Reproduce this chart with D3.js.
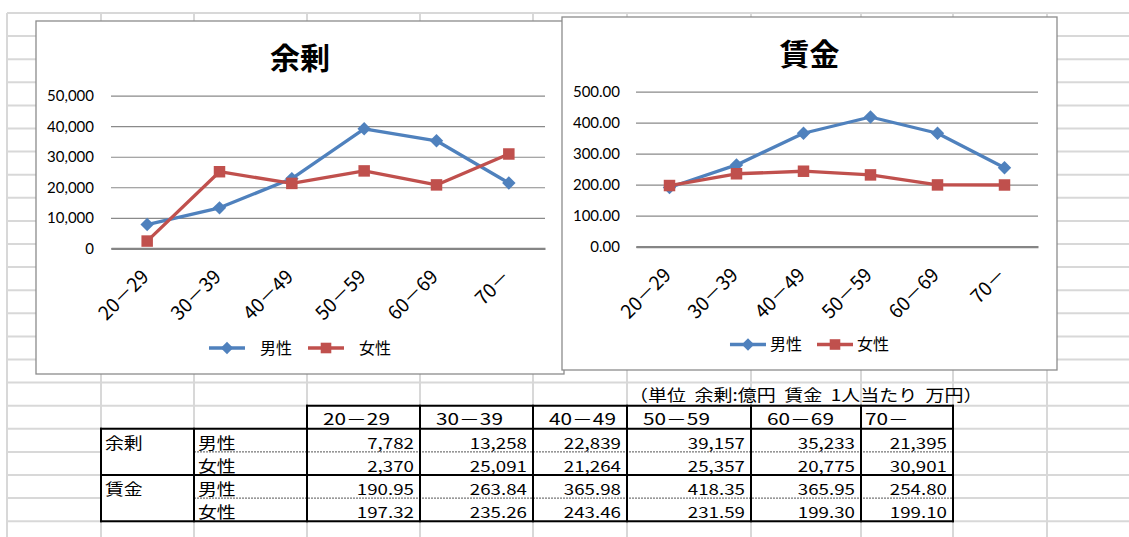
<!DOCTYPE html>
<html>
<head>
<meta charset="utf-8">
<script src="https://cdn.jsdelivr.net/npm/d3@7"></script>
<style>
  html, body { margin: 0; padding: 0; background: #fff; }
  svg { display: block; }
  text { font-family: "Noto Sans CJK JP", sans-serif; fill: #000; }
</style>
</head>
<body>
<div id="hoja"></div>
<script>
// Datos (categorías y series)
var categorias = ["20－29", "30－39", "40－49", "50－59", "60－69", "70－"];
var nombresSerie = ["男性", "女性"];
var grupos = ["余剰", "賃金"];
var yojoMasc = [7782, 13258, 22839, 39157, 35233, 21395];
var yojoFem = [2370, 25091, 21264, 25357, 20775, 30901];
var chinginMasc = [190.95, 263.84, 365.98, 418.35, 365.95, 254.80];
var chinginFem = [197.32, 235.26, 243.46, 231.59, 199.30, 199.10];
var ticksYojo = [0, 10000, 20000, 30000, 40000, 50000];
var ticksChingin = [0, 100, 200, 300, 400, 500];
var unidad = "（単位  余剰:億円  賃金  1人当たり  万円）";

var width = 1129;
var height = 537;
var azul = "#4f81bd";
var rojo = "#c0504d";

var svg = d3.select("#hoja")
    .append("svg")
    .attr("width", width)
    .attr("height", height);

svg.append("rect").attr("width", width).attr("height", height).attr("fill", "#fff");

// Cuadrícula de la hoja
var colX = [7, 101, 194, 307, 420, 533, 627, 751, 861, 953, 1047];
var filaY = d3.range(23).map(function (k) { return 13 + k * 23.1; });

var cuad = svg.append("g").attr("stroke", "#d8d8d8").attr("stroke-width", 2);
cuad.selectAll(".v").data(colX).enter().append("line")
    .attr("x1", function (d) { return d; })
    .attr("x2", function (d) { return d; })
    .attr("y1", 13).attr("y2", height);
cuad.selectAll(".h").data(filaY).enter().append("line")
    .attr("x1", 7).attr("x2", width)
    .attr("y1", function (d) { return d; })
    .attr("y2", function (d) { return d; });

// Marcador rombo (cuadrado girado)
var rombo = {
    draw: function (ctx, size) {
        var r = Math.sqrt(size / 2);
        ctx.moveTo(0, -r); ctx.lineTo(r, 0); ctx.lineTo(0, r); ctx.lineTo(-r, 0); ctx.closePath();
    }
};

function dibujarGrafico(c) {
    var g = svg.append("g");
    g.append("rect")
        .attr("x", c.caja[0]).attr("y", c.caja[1])
        .attr("width", c.caja[2]).attr("height", c.caja[3])
        .attr("fill", "#fff").attr("stroke", "#8c8c8c").attr("stroke-width", 1.3);

    g.append("text")
        .attr("x", c.caja[0] + c.caja[2] / 2)
        .attr("y", c.caja[1] + 37)
        .attr("dy", "0.36em")
        .attr("text-anchor", "middle")
        .style("font-size", "30px").style("font-weight", "bold")
        .text(c.titulo);

    var xScale = d3.scaleBand().domain(categorias).range([c.plot[0], c.plot[1]]);
    var yScale = d3.scaleLinear().domain([0, c.max]).range([c.plot[3], c.plot[2]]);

    // Eje Y con líneas de división
    var ejeY = g.append("g")
        .attr("transform", "translate(" + c.plot[0] + ",0)")
        .call(d3.axisLeft(yScale).tickValues(c.ticks).tickFormat(c.formato)
            .tickSize(-(c.plot[1] - c.plot[0])).tickPadding(c.pad));
    ejeY.select(".domain").remove();
    ejeY.selectAll("line").attr("stroke", "#8a8a8a").attr("stroke-width", 1.2);
    ejeY.selectAll("text").style("font-family", "Lato").style("font-size", "15px");

    // Eje X
    var ejeX = g.append("g")
        .attr("transform", "translate(0," + yScale(0) + ")")
        .call(d3.axisBottom(xScale).tickSize(0).tickSizeOuter(0));
    ejeX.select(".domain").attr("stroke", "#858585").attr("stroke-width", 2.2);
    ejeX.selectAll("text")
        .attr("x", 0).attr("y", 0).attr("dy", "0.35em")
        .attr("transform", "translate(-2,25) rotate(-45)")
        .attr("text-anchor", "end")
        .style("font-size", "19px");

    // Series
    var cx = function (i) { return xScale(categorias[i]) + xScale.bandwidth() / 2; };
    var info = [
        { nombre: nombresSerie[0], vals: c.masc, color: azul, forma: rombo, tam: 90 },
        { nombre: nombresSerie[1], vals: c.fem, color: rojo, forma: d3.symbolSquare, tam: 132 }
    ];
    info.forEach(function (s) {
        g.append("path")
            .datum(s.vals)
            .attr("fill", "none")
            .attr("stroke", s.color)
            .attr("stroke-width", 3.3)
            .attr("stroke-linejoin", "round")
            .attr("d", d3.line().x(function (d, i) { return cx(i); }).y(function (d) { return yScale(d); }));
        g.selectAll(null).data(s.vals).enter().append("path")
            .attr("transform", function (d, i) { return "translate(" + cx(i) + "," + yScale(d) + ")"; })
            .attr("d", d3.symbol().type(s.forma).size(s.tam))
            .attr("fill", s.color);
    });

    // Leyenda
    var ley = g.append("g");
    var xx = 0;
    info.forEach(function (s, i) {
        if (i > 0) xx += c.legSep;
        ley.append("line")
            .attr("x1", xx).attr("x2", xx + 36)
            .attr("stroke", s.color).attr("stroke-width", 3.3);
        ley.append("path")
            .attr("transform", "translate(" + (xx + 18) + ",0)")
            .attr("d", d3.symbol().type(s.forma).size(s.tam * 0.85))
            .attr("fill", s.color);
        xx += 36 + c.legGap;
        var t = ley.append("text")
            .attr("x", xx).attr("dy", "0.36em")
            .style("font-size", "16px")
            .text(s.nombre);
        xx += t.node().getComputedTextLength();
    });
    ley.attr("transform", "translate(" + (c.caja[0] + c.caja[2] / 2 - xx / 2) + "," + c.legY + ")");
}

dibujarGrafico({
    titulo: grupos[0], caja: [36, 21, 528, 353], plot: [111, 545, 95.7, 248.3],
    max: 50000, ticks: ticksYojo, formato: d3.format(","), pad: 17,
    masc: yojoMasc, fem: yojoFem, legY: 348, legGap: 15, legSep: 16
});
dibujarGrafico({
    titulo: grupos[1], caja: [562, 17, 495, 353], plot: [636, 1038, 91.7, 246.7],
    max: 500, ticks: ticksChingin, formato: d3.format(".2f"), pad: 16,
    masc: chinginMasc, fem: chinginFem, legY: 344.5, legGap: 4, legSep: 15
});

// Tabla
function celda(txt, x, y, ancla, tam, sx) {
    return svg.append("text")
        .attr("transform", "translate(" + x + "," + y + ") scale(" + sx + ",1)")
        .attr("text-anchor", ancla)
        .style("font-size", tam + "px")
        .text(txt);
}

var tabla = svg.append("g");
var top0 = filaY[17], top1 = filaY[18], fin = filaY[22];
tabla.append("rect").attr("x", colX[3]).attr("y", top0)
    .attr("width", colX[9] - colX[3]).attr("height", top1 - top0).attr("fill", "#fff");
tabla.append("rect").attr("x", colX[1]).attr("y", top1)
    .attr("width", colX[9] - colX[1]).attr("height", fin - top1).attr("fill", "#fff");

// líneas punteadas entre 男性 y 女性
[filaY[19], filaY[21]].forEach(function (yy) {
    tabla.append("line").attr("x1", colX[2]).attr("x2", colX[9])
        .attr("y1", yy).attr("y2", yy)
        .attr("stroke", "#555").attr("stroke-width", 1).attr("stroke-dasharray", "2,1");
});
var negro = tabla.append("g").attr("stroke", "#000").attr("stroke-width", 2).attr("stroke-linecap", "square");
negro.append("line").attr("x1", colX[3]).attr("x2", colX[9]).attr("y1", top0).attr("y2", top0);
[top1, filaY[20], fin].forEach(function (yy) {
    negro.append("line").attr("x1", colX[1]).attr("x2", colX[9]).attr("y1", yy).attr("y2", yy);
});
colX.slice(1, 10).forEach(function (xx, i) {
    negro.append("line").attr("x1", xx).attr("x2", xx)
        .attr("y1", i >= 2 ? top0 : top1).attr("y2", fin);
});

categorias.forEach(function (cat, i) {
    var pad = cat.length > 3 ? 16 : 4;
    celda(cat, colX[3 + i] + pad, top1 - 4, "start", 16, 1.3);
});

var filas = [
    { grupo: grupos[0], serie: nombresSerie[0], vals: yojoMasc, f: d3.format(",") },
    { grupo: "", serie: nombresSerie[1], vals: yojoFem, f: d3.format(",") },
    { grupo: grupos[1], serie: nombresSerie[0], vals: chinginMasc, f: d3.format(".2f") },
    { grupo: "", serie: nombresSerie[1], vals: chinginFem, f: d3.format(".2f") }
];
filas.forEach(function (r, k) {
    var base = filaY[19 + k] - 3;
    if (r.grupo) celda(r.grupo, colX[1] + 4, base, "start", 16, 1.18);
    celda(r.serie, colX[2] + 4, base, "start", 16, 1.18);
    r.vals.forEach(function (v, i) {
        celda(r.f(v), colX[4 + i] - 6, base, "end", 15, 1.25);
    });
});

// Nota de unidades
var nota = celda(unidad, 629, filaY[17] - 5, "start", 16, 1).style("white-space", "pre");
var largo = nota.node().getComputedTextLength();
nota.attr("transform", "translate(629," + (filaY[17] - 5) + ") scale(" + (354 / largo) + ",1)");
</script>
</body>
</html>
